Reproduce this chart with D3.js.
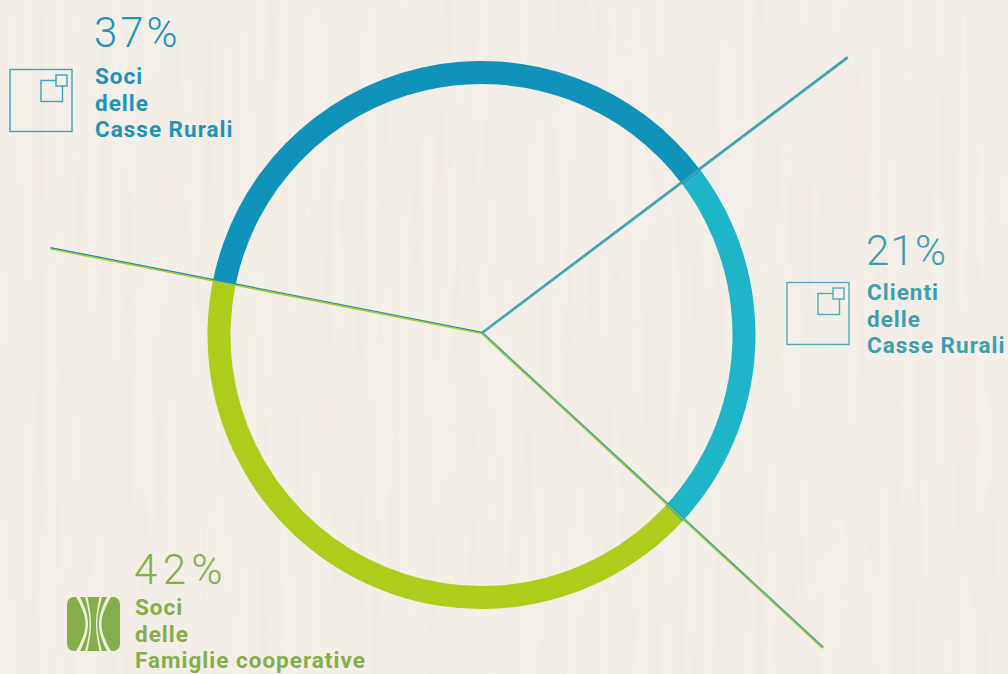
<!DOCTYPE html>
<html>
<head>
<meta charset="utf-8">
<script src="https://cdn.jsdelivr.net/npm/d3@7"></script>
<style>
    html, body { margin: 0; padding: 0; background: #f3eee8; overflow: hidden; }
    .pct { font-family: "Roboto", sans-serif; font-weight: 300; font-size: 42px; }
    .lbl { font-family: "Roboto", sans-serif; font-weight: 700; font-size: 22.5px; letter-spacing: 1px; }
</style>
</head>
<body>
<div id="chart"></div>
<script>
// Labels printed on the chart
var categories = ["Soci delle Casse Rurali", "Clienti delle Casse Rurali", "Soci delle Famiglie cooperative"];
var percents = [37, 21, 42];
var labelLines = [["Soci", "delle", "Casse Rurali"], ["Clienti", "delle", "Casse Rurali"], ["Soci", "delle", "Famiglie cooperative"]];
// Size of each arc as measured on the ring (the drawn arcs differ a little from the printed percents)
var arcShares = [36.7, 22.1, 41.2];
// Each spoke as measured: compass angle in degrees and length
var spokeAngles = [281.1, 53, 132.7];
var spokeLengths = [440, 458, 464];

var ringColors = ["#0f93bb", "#1eb5c9", "#aecd1b"];
var textColors = ["#1c93b7", "#3d9fae", "#85ae4b"];
// each spoke has two thin strands side by side, upper strand first
var spokeColors = [["#1b8fa8", "#a9cb2a"], ["#2f9aae", "#3fa9b4"], ["#3a9fa8", "#93c52c"]];

var width = 1008, height = 674;
var ringCenter = { x: 481.5, y: 335 };
var spokeCenter = { x: 482, y: 333 };

var svg = d3.select("#chart").append("svg")
    .attr("width", width)
    .attr("height", height)
    .style("display", "block");

// Paper background with faint vertical streaks
var defs = svg.append("defs");
var paper = defs.append("filter").attr("id", "paper")
    .attr("x", 0).attr("y", 0).attr("width", "100%").attr("height", "100%");
paper.append("feTurbulence")
    .attr("type", "fractalNoise")
    .attr("baseFrequency", "0.09 0.004")
    .attr("numOctaves", 3)
    .attr("seed", 4);
paper.append("feColorMatrix")
    .attr("type", "matrix")
    .attr("values", "0 0 0 0 0.82  0 0 0 0 0.76  0 0 0 0 0.68  0.55 0 0 0 -0.17");
svg.append("rect").attr("width", width).attr("height", height).attr("fill", "#f4efe9");
svg.append("rect").attr("width", width).attr("height", height).attr("filter", "url(#paper)");

// Ring, first arc starts at the left spoke
var startAngle = 281.2 * Math.PI / 180;
var pie = d3.pie().sort(null)
    .startAngle(startAngle)
    .endAngle(startAngle + 2 * Math.PI);
var arcs = pie(arcShares);
var arc = d3.arc().innerRadius(251).outerRadius(274);

svg.append("g")
    .attr("transform", "translate(" + ringCenter.x + "," + ringCenter.y + ")")
    .selectAll("path")
    .data(arcs)
    .enter().append("path")
    .attr("d", arc)
    .attr("fill", function(d, i) { return ringColors[i]; });

// Spokes
var spokes = svg.append("g")
    .attr("transform", "translate(" + spokeCenter.x + "," + spokeCenter.y + ")");
spokeAngles.forEach(function(deg, i) {
    var a = deg * Math.PI / 180;
    var ux = Math.sin(a), uy = -Math.cos(a);
    // normal pointing upwards, so the first strand is always the upper one
    var nx = uy, ny = -ux;
    if (ny > 0) { nx = -nx; ny = -ny; }
    spokeColors[i].forEach(function(color, k) {
        var off = k === 0 ? 0.6 : -0.6;
        spokes.append("line")
            .attr("x1", nx * off)
            .attr("y1", ny * off)
            .attr("x2", ux * spokeLengths[i] + nx * off)
            .attr("y2", uy * spokeLengths[i] + ny * off)
            .attr("stroke", color)
            .attr("stroke-width", 1.5);
    });
});

// Text blocks (spacing evens out Roboto's fixed width digits against the original face)
var blockPos = [
    { x: 94, pctY: 47, lineY: 84, spacing: 2.9 },
    { x: 866, pctY: 265, lineY: 300, spacing: 1.2 },
    { x: 134, pctY: 584, lineY: 615, spacing: 5.4 }
];
percents.forEach(function(p, i) {
    var pos = blockPos[i];
    svg.append("text").attr("class", "pct")
        .attr("x", pos.x).attr("y", pos.pctY)
        .attr("fill", textColors[i])
        .style("letter-spacing", pos.spacing + "px")
        .text(p + "%");
    labelLines[i].forEach(function(line, k) {
        svg.append("text").attr("class", "lbl")
            .attr("x", pos.x + 1).attr("y", pos.lineY + k * 26.6)
            .attr("fill", textColors[i])
            .text(line);
    });
});

// Square icons
function drawSquares(x, y, color) {
    var g = svg.append("g").attr("transform", "translate(" + x + "," + y + ")")
        .attr("fill", "none").attr("stroke", color).attr("stroke-width", 1.4);
    g.append("rect").attr("width", 62).attr("height", 62);
    g.append("rect").attr("x", 31).attr("y", 11).attr("width", 21.5).attr("height", 21);
    g.append("rect").attr("x", 46).attr("y", 5.5).attr("width", 11).attr("height", 11)
        .attr("fill", "#f4efe9");
}
drawSquares(10, 69.5, "#3ba2bf");
drawSquares(787, 282.5, "#56a9b6");

// Famiglie cooperative icon: green tile cut by tapering pale curves
var leaf = svg.append("g").attr("transform", "translate(67,597)");
leaf.append("rect").attr("width", 53).attr("height", 54).attr("rx", 7).attr("fill", "#85ae4b");
var curves = [
    "M9,0 L13,0 C19,12 21,20 21,27 C21,34 19,42 13,54 L9,54 C16,42 18.5,34 18.5,27 C18.5,20 16,12 9,0 Z",
    "M18,0 L20.5,0 C23,12 24,20 24,27 C24,34 23,42 20.5,54 L18,54 C21.5,42 22.6,34 22.6,27 C22.6,20 21.5,12 18,0 Z",
    "M44,0 L40,0 C34,12 32,20 32,27 C32,34 34,42 40,54 L44,54 C37,42 34.5,34 34.5,27 C34.5,20 37,12 44,0 Z",
    "M35,0 L32.5,0 C30,12 29,20 29,27 C29,34 30,42 32.5,54 L35,54 C31.5,42 30.4,34 30.4,27 C30.4,20 31.5,12 35,0 Z"
];
leaf.selectAll("path")
    .data(curves)
    .enter().append("path")
    .attr("d", function(d) { return d; })
    .attr("fill", "#f1efe2");
</script>
</body>
</html>
